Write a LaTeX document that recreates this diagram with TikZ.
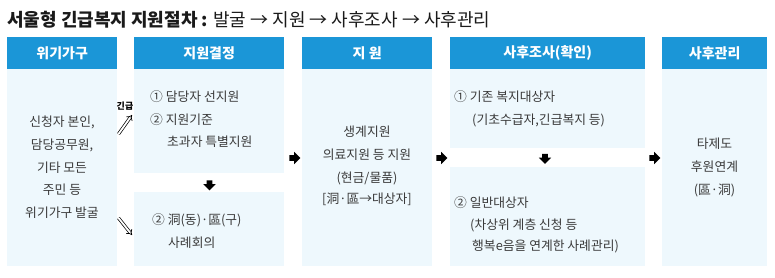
\documentclass[tikz,border=0pt]{standalone}
\usepackage{fontspec}
\setmainfont{Noto Sans CJK KR}
\usetikzlibrary{shapes.arrows,arrows.meta}
\definecolor{hdr}{HTML}{1B96D7}
\definecolor{bodyc}{HTML}{EEF8FD}
\definecolor{txtc}{HTML}{3A3A3A}
\definecolor{ttl}{HTML}{1A1A1A}
\begin{document}
\begin{tikzpicture}[x=1pt,y=-1pt,
  hbox/.style={fill=hdr, text=white, font=\bfseries\fontsize{14}{16}\selectfont, inner sep=0pt, anchor=north west, minimum height=32pt},
  bbox/.style={fill=bodyc, inner sep=0pt, anchor=north west},
  txt/.style={font=\fontsize{12.8}{14}\selectfont, text=txtc, inner sep=0pt},
  rarrow/.style={single arrow, fill=black, inner sep=2.6pt, minimum height=11pt, single arrow head extend=3.4pt, anchor=center},
  darrow/.style={rarrow, shape border rotate=270, minimum height=10pt},
  dbl/.style={double, double distance=1.8pt, line width=0.7pt, -{Implies}, draw=black}
]
\useasboundingbox (0,0) rectangle (775,277);
\fill[white] (0,0) rectangle (775,277);

% title
\node[anchor=west, inner sep=0pt, text=ttl, font=\fontsize{18}{20}\selectfont] (title) at (7,20)
  {{\bfseries 서울형 긴급복지 지원절차 :} 발굴 → 지원 → 사후조사 → 사후관리};

% headers
\node[hbox, minimum width=110pt] (h1) at (7,37) {위기가구};
\node[hbox, minimum width=150pt] (h2) at (134,37) {지원결정};
\node[hbox, minimum width=130pt] (h3) at (302,37) {지 원};
\node[hbox, minimum width=195pt] (h4) at (450,37) {사후조사(확인)};
\node[hbox, minimum width=105pt] (h5) at (662,37) {사후관리};

% bodies
\node[bbox, minimum width=110pt, minimum height=197pt] (b1) at (7,69) {};
\node[bbox, minimum width=150pt, minimum height=104pt] (b2a) at (134,69) {};
\node[bbox, minimum width=150pt, minimum height=74pt] (b2b) at (134,192) {};
\node[bbox, minimum width=130pt, minimum height=197pt] (b3) at (302,69) {};
\node[bbox, minimum width=195pt, minimum height=79pt] (b4a) at (450,69) {};
\node[bbox, minimum width=195pt, minimum height=99pt] (b4b) at (450,167) {};
\node[bbox, minimum width=105pt, minimum height=197pt] (b5) at (662,69) {};

% column 1 text
\node[txt] (t11) at (62,122) {신청자 본인,};
\node[txt] (t12) at (62,145) {담당공무원,};
\node[txt] (t13) at (62,168) {기타 모든};
\node[txt] (t14) at (62,190) {주민 등};
\node[txt] (t15) at (62,213) {위기가구 발굴};

% column 2 text
\node[txt, anchor=west] (t21) at (150,97) {① 담당자 선지원};
\node[txt, anchor=west] (t22) at (150,120) {② 지원기준};
\node[txt, anchor=west] (t23) at (167,142) {초과자 특별지원};
\node[txt, anchor=west] (t24) at (152,220) {② 洞(동)·區(구)};
\node[txt, anchor=west] (t25) at (168,243) {사례회의};

% column 3 text
\node[txt] (t31) at (367,132) {생계지원};
\node[txt] (t32) at (367,155) {의료지원 등 지원};
\node[txt] (t33) at (367,178) {(현금/물품)};
\node[txt] (t34) at (367,199) {[洞·區→대상자]};

% column 4 text
\node[txt, anchor=west] (t41) at (454,97) {① 기존 복지대상자};
\node[txt, anchor=west] (t42) at (472,120) {(기초수급자,긴급복지 등)};
\node[txt, anchor=west] (t43) at (454,203) {② 일반대상자};
\node[txt, anchor=west] (t44) at (470,225) {(차상위 계층 신청 등};
\node[txt, anchor=west] (t45) at (472,246) {행복e음을 연계한 사례관리)};

% column 5 text
\node[txt] (t51) at (714.5,144) {타제도};
\node[txt] (t52) at (714.5,167) {후원연계};
\node[txt] (t53) at (714.5,190) {(區·洞)};

% fat arrows
\node[rarrow] (a1) at (293.5,158) {};
\node[rarrow] (a2) at (440.5,158) {};
\node[rarrow] (a3) at (653.5,158) {};
\node[darrow] (a4) at (209.5,184) {};
\node[darrow] (a5) at (545,157.5) {};

% emergency double arrows
\node[inner sep=0pt, font=\bfseries\fontsize{9}{10}\selectfont, text=black] (urg) at (125,106) {긴급};
\coordinate (u1) at (118.5,134);
\coordinate (u2) at (132,115);
\coordinate (d1) at (118.5,218);
\coordinate (d2) at (132,235);
\draw[dbl] (u1) -- (u2);
\draw[dbl] (d1) -- (d2);
\end{tikzpicture}
\end{document}
